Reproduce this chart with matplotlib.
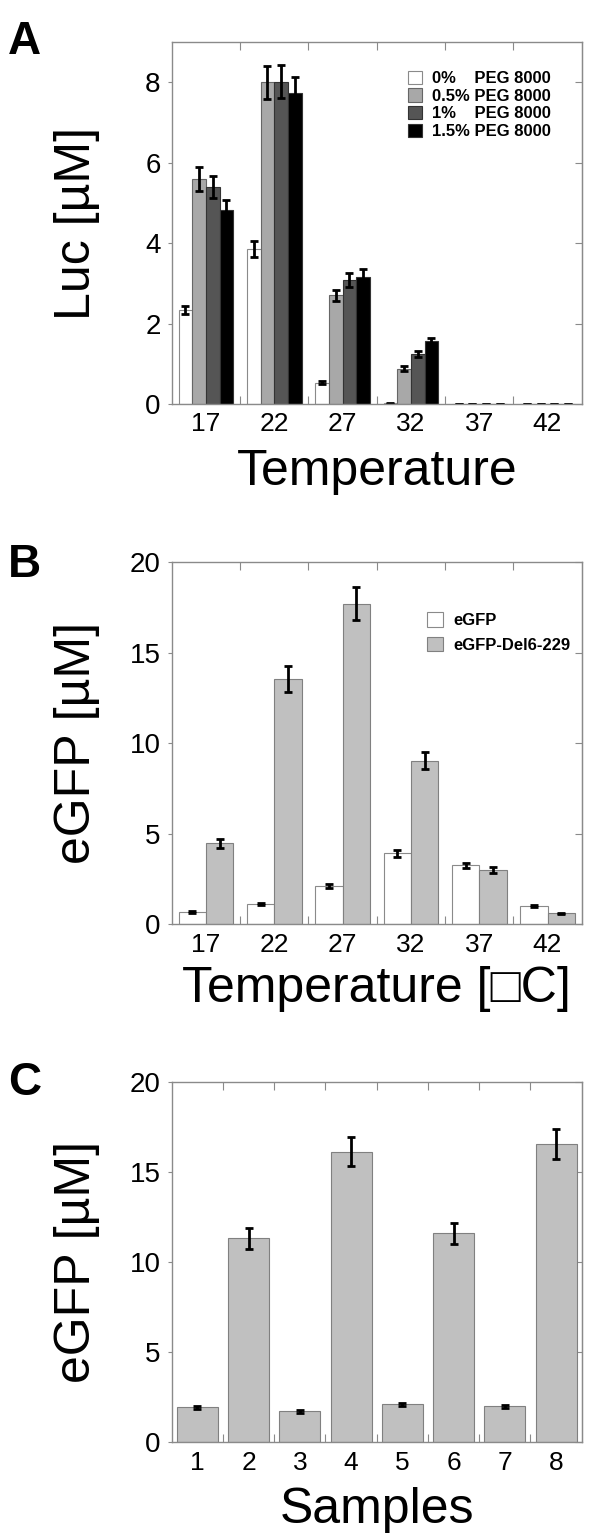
import matplotlib
matplotlib.use("Agg")
import matplotlib.pyplot as plt
import numpy as np

plt.rcParams['font.family'] = ['Liberation Sans', 'DejaVu Sans']

# ---------------- data ----------------
temps = ["17", "22", "27", "32", "37", "42"]

peg_labels = ["0%    PEG 8000", "0.5% PEG 8000", "1%    PEG 8000", "1.5% PEG 8000"]
luc_0 = [2.35, 3.85, 0.53, 0.02, 0.0, 0.0]
luc_05 = [5.6, 8.0, 2.7, 0.88, 0.0, 0.0]
luc_1 = [5.4, 8.02, 3.08, 1.25, 0.0, 0.0]
luc_15 = [4.82, 7.75, 3.17, 1.56, 0.0, 0.0]
luc_0_err = [0.1, 0.2, 0.03, 0.01, 0.0, 0.0]
luc_05_err = [0.29, 0.4, 0.14, 0.06, 0.0, 0.0]
luc_1_err = [0.28, 0.41, 0.17, 0.07, 0.0, 0.0]
luc_15_err = [0.25, 0.38, 0.18, 0.08, 0.0, 0.0]

gfp_labels = ["eGFP", "eGFP-Del6-229"]
egfp = [0.66, 1.12, 2.12, 3.93, 3.25, 1.0]
egfp_err = [0.05, 0.06, 0.1, 0.2, 0.15, 0.05]
egfp_del = [4.48, 13.55, 17.72, 9.03, 2.99, 0.61]
egfp_del_err = [0.25, 0.7, 0.9, 0.47, 0.15, 0.04]

samples = ["1", "2", "3", "4", "5", "6", "7", "8"]
sample_vals = [1.94, 11.33, 1.72, 16.15, 2.11, 11.61, 2.0, 16.57]
sample_err = [0.1, 0.6, 0.07, 0.8, 0.1, 0.6, 0.1, 0.83]

# ---------------- style ----------------
AX_GRAY = "#8a8a8a"
XTICK_FS = 19
YTICK_FS = 20
LABEL_FS = 36
PANEL_FS = 33
LEG_FS = 12

W, H = 600, 1539
fig = plt.figure(figsize=(W / 100, H / 100), dpi=100)


def axes_px(left, top, right, bottom):
    return fig.add_axes([left / W, 1 - bottom / H, (right - left) / W, (bottom - top) / H])


def style_axes(ax, ncat, ylim, yticks):
    ax.set_xlim(-0.5, ncat - 0.5)
    ax.set_ylim(*ylim)
    for s in ax.spines.values():
        s.set_color(AX_GRAY)
        s.set_linewidth(1.0)
    ax.set_yticks(yticks)
    ax.set_yticklabels([str(t) for t in yticks])
    ax.tick_params(axis='y', which='major', direction='out', length=3, width=0.8,
                   color=AX_GRAY, labelsize=YTICK_FS, pad=5, right=False)
    ax.set_xticks(np.arange(ncat))
    ax.set_xticks(np.arange(ncat - 1) + 0.5, minor=True)
    ax.tick_params(axis='x', which='major', length=0, labelsize=XTICK_FS, pad=6)
    ax.tick_params(axis='x', which='minor', direction='in', length=6, width=0.8,
                   color=AX_GRAY, top=True, bottom=True)
    sec = ax.secondary_yaxis('right')
    sec.set_yticks(yticks)
    sec.tick_params(direction='in', length=5, width=0.8, color=AX_GRAY, labelright=False)
    sec.spines['right'].set_color(AX_GRAY)


err_kw = dict(ecolor='black', elinewidth=2.0, capsize=3, capthick=2.0)

# ---------------- Panel A ----------------
axA = axes_px(171.7, 42.3, 581.7, 404.0)
x6 = np.arange(len(temps))
w4 = 0.2
series_A = [(luc_0, luc_0_err, "white"), (luc_05, luc_05_err, "#a8a8a8"),
            (luc_1, luc_1_err, "#555555"), (luc_15, luc_15_err, "#000000")]
for i, (vals, errs, col) in enumerate(series_A):
    ec = "#8a8a8a" if col == "white" else ("#666666" if col == "#a8a8a8" else "#333333")
    axA.bar(x6 + (i - 1.5) * w4, vals, w4, yerr=errs, color=col, edgecolor=ec,
            linewidth=0.8, label=peg_labels[i], error_kw=err_kw, zorder=2)
style_axes(axA, len(temps), (0, 9.0), [0, 2, 4, 6, 8])
axA.set_xticklabels(temps)
axA.set_ylabel("Luc [µM]", fontsize=LABEL_FS)
axA.set_xlabel("Temperature", fontsize=LABEL_FS, labelpad=9)
axA.yaxis.set_label_coords(-0.23, 0.5)
axA.yaxis.label.set_va('center')
axA.legend(loc='upper left', bbox_to_anchor=(0.555, 0.945), frameon=False,
           borderpad=0, handlelength=0.85, handleheight=0.85, labelspacing=0.14,
           handletextpad=0.6, prop={'weight': 'bold', 'size': LEG_FS})

# ---------------- Panel B ----------------
axB = axes_px(171.7, 562.3, 581.7, 924.3)
w2 = 0.4
axB.bar(x6 - w2 / 2, egfp, w2, yerr=egfp_err, color="white", edgecolor="#8a8a8a",
        linewidth=0.8, label=gfp_labels[0], error_kw=err_kw, zorder=2)
axB.bar(x6 + w2 / 2, egfp_del, w2, yerr=egfp_del_err, color="#c0c0c0", edgecolor="#808080",
        linewidth=0.8, label=gfp_labels[1], error_kw=err_kw, zorder=2)
style_axes(axB, len(temps), (0, 20), [0, 5, 10, 15, 20])
axB.set_xticklabels(temps)
axB.set_ylabel("eGFP [µM]", fontsize=LABEL_FS)
axB.set_xlabel("Temperature [\u25a1C]", fontsize=LABEL_FS, labelpad=7)
axB.yaxis.set_label_coords(-0.23, 0.5)
axB.yaxis.label.set_va('center')
axB.legend(loc='upper left', bbox_to_anchor=(0.603, 0.885), frameon=False,
           borderpad=0, handlelength=0.96, handleheight=0.96, labelspacing=0.5,
           handletextpad=0.6, prop={'weight': 'bold', 'size': LEG_FS})

# ---------------- Panel C ----------------
axC = axes_px(171.7, 1082.3, 581.7, 1442.3)
x8 = np.arange(len(samples))
axC.bar(x8, sample_vals, 0.8, yerr=sample_err, color="#c0c0c0", edgecolor="#808080",
        linewidth=0.8, error_kw=err_kw, zorder=2)
style_axes(axC, len(samples), (0, 20), [0, 5, 10, 15, 20])
axC.set_xticklabels(samples)
axC.set_ylabel("eGFP [µM]", fontsize=LABEL_FS)
axC.set_xlabel("Samples", fontsize=LABEL_FS, labelpad=9)
axC.yaxis.set_label_coords(-0.23, 0.5)
axC.yaxis.label.set_va('center')

# panel letters
fig.text(8 / W, 1 - 20 / H, "A", fontsize=PANEL_FS, fontweight='bold', va='top', ha='left')
fig.text(8 / W, 1 - 543 / H, "B", fontsize=PANEL_FS, fontweight='bold', va='top', ha='left')
fig.text(8 / W, 1 - 1061 / H, "C", fontsize=PANEL_FS, fontweight='bold', va='top', ha='left')

fig.savefig("out.png", dpi=100)
